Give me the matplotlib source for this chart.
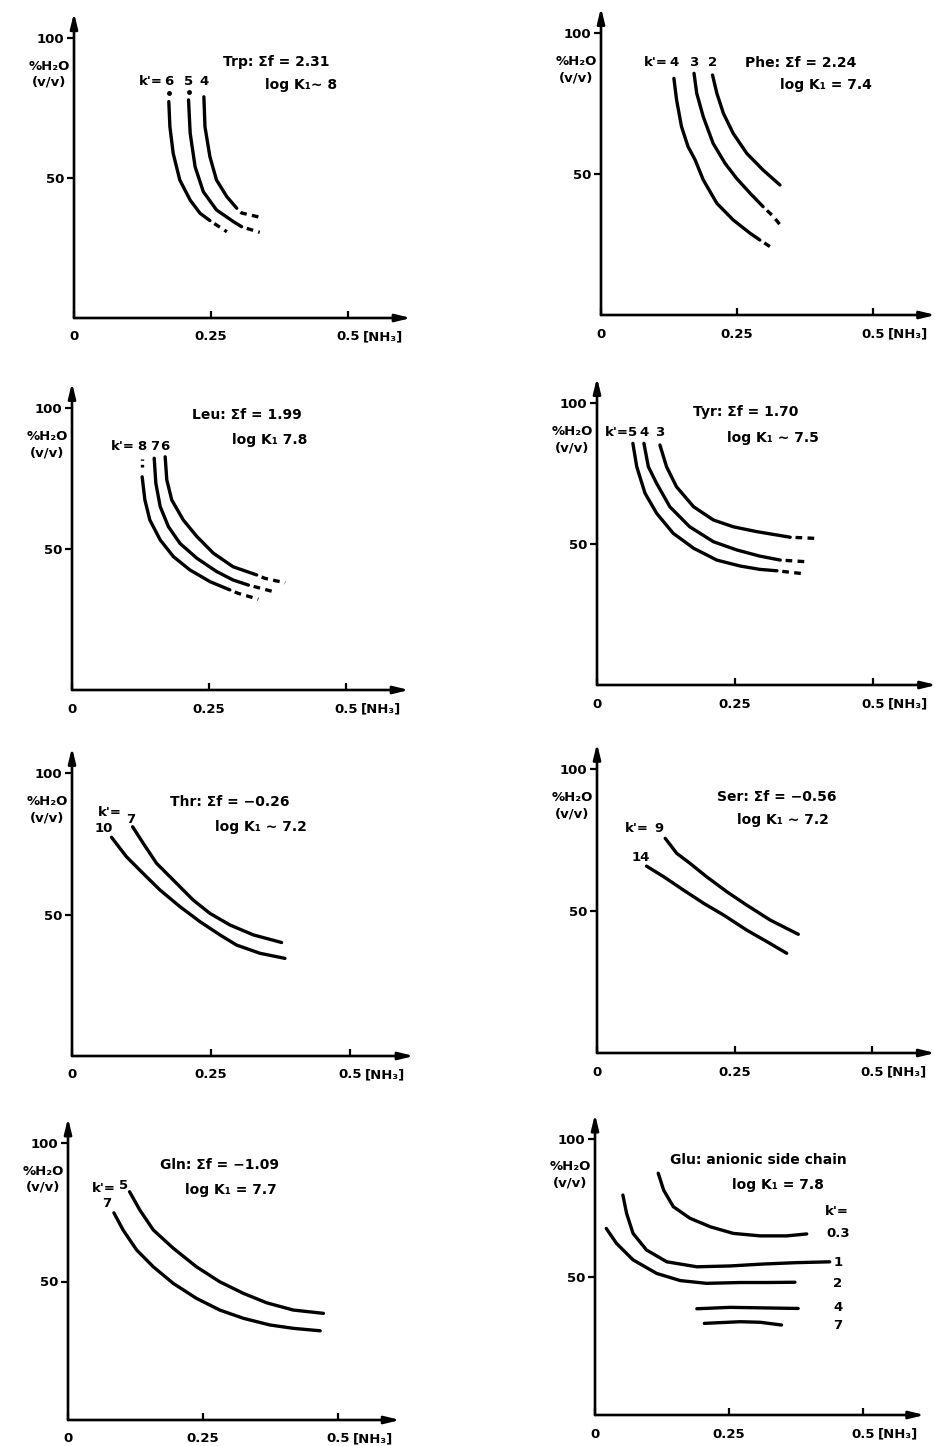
import matplotlib.pyplot as plt

plt.rcParams['font.family'] = ['DejaVu Sans']
plt.rcParams['font.weight'] = 'bold'

W, H = 935, 1446

# values: x = [NH3], y = % H2O (v/v)
trp_k = ["6", "5", "4"]
trp_x = [[0.173, 0.175, 0.181, 0.193, 0.212, 0.230, 0.248],
         [0.209, 0.212, 0.221, 0.236, 0.260, 0.291, 0.306],
         [0.237, 0.239, 0.248, 0.260, 0.279, 0.297]]
trp_y = [[77.3, 68.3, 58.8, 49.3, 42.1, 37.4, 34.8],
         [77.9, 66.0, 54.0, 45.1, 38.6, 34.4, 32.6],
         [79.0, 68.3, 57.6, 49.3, 43.3, 39.2]]
trp_tail_x = [[0.248, 0.257, 0.279], [0.306, 0.312, 0.339], [0.297, 0.306, 0.339]]
trp_tail_y = [[34.8, 33.6, 30.8], [32.6, 32.2, 30.6], [39.2, 37.5, 36.0]]

phe_k = ["4", "3", "2"]
phe_x = [[0.134, 0.139, 0.148, 0.160, 0.173, 0.188, 0.213, 0.243, 0.274, 0.292],
         [0.171, 0.176, 0.188, 0.206, 0.228, 0.249, 0.274, 0.298],
         [0.205, 0.213, 0.225, 0.243, 0.268, 0.298, 0.329]]
phe_y = [[83.9, 76.2, 66.8, 59.7, 55.0, 47.9, 39.6, 33.7, 29.0, 26.6],
         [85.7, 78.6, 70.3, 60.9, 53.8, 48.5, 43.2, 38.4],
         [85.1, 78.6, 71.5, 64.4, 57.3, 51.4, 46.1]]
phe_tail_x = [[0.292, 0.311], [0.298, 0.317, 0.332], []]
phe_tail_y = [[26.6, 24.2], [38.4, 34.9, 31.3], []]

leu_k = ["8", "7", "6"]
leu_x = [[0.128, 0.133, 0.142, 0.161, 0.185, 0.215, 0.252, 0.288],
         [0.150, 0.153, 0.161, 0.176, 0.197, 0.228, 0.264, 0.294, 0.322],
         [0.170, 0.173, 0.182, 0.203, 0.228, 0.258, 0.294, 0.337]]
leu_y = [[75.6, 67.4, 60.3, 53.2, 47.3, 42.6, 38.4, 35.5],
         [82.2, 73.3, 65.0, 57.9, 52.0, 46.7, 42.0, 39.0, 37.2],
         [82.7, 74.5, 67.4, 60.3, 54.4, 48.5, 43.7, 40.8]]
leu_tail_x = [[0.288, 0.303, 0.340], [0.322, 0.334, 0.367], [0.337, 0.352, 0.389]]
leu_tail_y = [[35.5, 34.3, 32.2], [37.2, 36.6, 34.9], [40.8, 39.6, 38.0]]

tyr_k = ["5", "4", "3"]
tyr_x = [[0.065, 0.072, 0.087, 0.108, 0.138, 0.175, 0.217, 0.259, 0.295, 0.326],
         [0.085, 0.093, 0.108, 0.132, 0.168, 0.211, 0.253, 0.295, 0.332],
         [0.114, 0.126, 0.144, 0.175, 0.211, 0.247, 0.289, 0.350]]
tyr_y = [[85.7, 77.4, 68.0, 60.9, 53.8, 48.5, 44.3, 42.2, 41.0, 40.5],
         [85.7, 77.4, 71.5, 63.2, 56.1, 50.8, 47.9, 45.7, 44.3],
         [85.1, 77.4, 70.3, 63.2, 58.5, 56.1, 54.4, 52.4]]
tyr_tail_x = [[0.326, 0.377], [0.332, 0.380], [0.350, 0.395]]
tyr_tail_y = [[40.5, 39.4], [44.3, 43.7], [52.4, 52.0]]

thr_k = ["7", "10"]
thr_x = [[0.109, 0.128, 0.152, 0.182, 0.218, 0.248, 0.284, 0.326, 0.377],
         [0.071, 0.098, 0.128, 0.158, 0.194, 0.230, 0.266, 0.296, 0.338, 0.383]]
thr_y = [[81.0, 75.2, 68.1, 62.2, 55.1, 50.4, 46.3, 42.8, 40.1],
         [77.3, 70.4, 64.5, 58.7, 52.8, 47.5, 42.8, 39.2, 36.3, 34.5]]

ser_k = ["9", "14"]
ser_x = [[0.124, 0.145, 0.169, 0.199, 0.236, 0.272, 0.315, 0.366],
         [0.090, 0.121, 0.157, 0.194, 0.230, 0.272, 0.309, 0.345]]
ser_y = [[75.6, 70.3, 66.8, 62.1, 56.8, 52.1, 46.8, 41.8],
         [65.8, 62.1, 57.4, 52.7, 48.6, 43.3, 39.2, 35.1]]

gln_k = ["5", "7"]
gln_x = [[0.114, 0.133, 0.158, 0.195, 0.238, 0.281, 0.325, 0.368, 0.417, 0.473],
         [0.085, 0.102, 0.127, 0.158, 0.195, 0.238, 0.281, 0.325, 0.374, 0.417, 0.467]]
gln_y = [[82.4, 75.8, 68.6, 62.0, 55.3, 49.9, 45.7, 42.3, 39.7, 38.5],
         [74.8, 68.6, 61.4, 55.3, 49.3, 43.9, 39.7, 36.7, 34.3, 33.1, 32.2]]

glu_k = ["0.3", "1", "2", "4", "7"]
glu_x = [[0.118, 0.128, 0.146, 0.177, 0.215, 0.258, 0.308, 0.358, 0.395],
         [0.052, 0.059, 0.071, 0.096, 0.134, 0.190, 0.252, 0.314, 0.376, 0.438],
         [0.021, 0.040, 0.071, 0.115, 0.159, 0.208, 0.271, 0.320, 0.373],
         [0.190, 0.252, 0.379],
         [0.204, 0.271, 0.308, 0.348]]
glu_y = [[87.6, 81.5, 75.5, 71.3, 68.2, 65.8, 64.9, 64.9, 65.6],
         [79.7, 73.0, 65.8, 59.8, 55.5, 53.7, 54.0, 54.7, 55.2, 55.5],
         [67.6, 62.2, 56.2, 51.3, 48.7, 47.7, 48.0, 48.0, 48.1],
         [38.5, 39.0, 38.6],
         [33.2, 33.8, 33.6, 32.6]]

titles = ["Trp: Σf = 2.31", "Phe: Σf = 2.24", "Leu: Σf = 1.99", "Tyr: Σf = 1.70",
          "Thr: Σf = −0.26", "Ser: Σf = −0.56", "Gln: Σf = −1.09",
          "Glu: anionic side chain"]
logk = ["log K₁∼ 8", "log K₁ = 7.4", "log K₁ 7.8", "log K₁ ∼ 7.5",
        "log K₁ ∼ 7.2", "log K₁ ∼ 7.2", "log K₁ = 7.7", "log K₁ = 7.8"]

FS = 9.5      # ticks, k' labels
TFS = 10      # panel annotations
LW = 2.4
fig = plt.figure(figsize=(W / 100, H / 100), dpi=100)


def make_axes(ox, oy, sx, sy):
    # ox, oy: pixel position of the origin; sx, sy: pixels per data unit
    xmax, ymax = 0.615, 109
    ax = fig.add_axes([ox / W, 1 - oy / H, xmax * sx / W, ymax * sy / H])
    ax.set_xlim(0, xmax)
    ax.set_ylim(0, ymax)
    for sp in ax.spines.values():
        sp.set_visible(False)
    ax.patch.set_alpha(0)
    arrow = dict(arrowstyle='-|>,head_length=0.9,head_width=0.22', color='black',
                 lw=1.9, shrinkA=0, shrinkB=0)
    ax.annotate('', xy=(xmax, 0), xytext=(0, 0), arrowprops=arrow, annotation_clip=False)
    ax.annotate('', xy=(0, ymax), xytext=(0, 0), arrowprops=arrow, annotation_clip=False)
    ax.set_xticks([0, 0.25, 0.5])
    ax.set_xticklabels(['0', '0.25', '0.5'])
    ax.set_yticks([50, 100])
    ax.set_yticklabels(['50', '100'])
    ax.tick_params(axis='x', direction='in', length=5, width=1.6, pad=9, labelsize=FS)
    ax.tick_params(axis='y', direction='out', length=5, width=1.6, pad=2, labelsize=FS)
    ax.annotate('[NH₃]', xy=(0.5, 0), xytext=(15, -19), textcoords='offset pixels',
                ha='left', va='center', fontsize=FS, annotation_clip=False)
    ax.text(-4 / sx, 87.0, '%H₂O\n(v/v)', ha='right', va='center', fontsize=FS,
            multialignment='center', linespacing=1.3)
    return ax


def draw_curves(ax, xs, ys, tx=None, ty=None):
    for i in range(len(xs)):
        ax.plot(xs[i], ys[i], color='black', lw=LW, solid_capstyle='round',
                solid_joinstyle='round', clip_on=False)
        if tx and tx[i]:
            ax.plot(tx[i], ty[i], color='black', lw=LW, linestyle=(2.0, (2.0, 1.6)),
                    clip_on=False)


def k_labels(ax, kx, ky, ks, xs):
    ax.text(kx, ky, "k'=", ha='right', va='center', fontsize=FS)
    for k, x in zip(ks, xs):
        ax.text(x[0], ky, k, ha='center', va='center', fontsize=FS)


# Trp
ax = make_axes(74, 318, 548, 2.80)
draw_curves(ax, trp_x, trp_y, trp_tail_x, trp_tail_y)
ax.plot([trp_x[0][0], trp_x[1][0]], [80.2, 80.6], 'o', color='black', ms=2.5)
k_labels(ax, 0.162, 84.5, trp_k, trp_x)
ax.text(0.272, 91.4, titles[0], fontsize=TFS, va='center')
ax.text(0.349, 83.2, logk[0], fontsize=TFS, va='center')

# Phe
ax = make_axes(601, 315, 544, 2.82)
draw_curves(ax, phe_x, phe_y, phe_tail_x, phe_tail_y)
k_labels(ax, 0.123, 89.4, phe_k, phe_x)
ax.text(0.265, 89.4, titles[1], fontsize=TFS, va='center')
ax.text(0.329, 81.6, logk[1], fontsize=TFS, va='center')

# Leu
ax = make_axes(72, 690, 548, 2.82)
draw_curves(ax, leu_x, leu_y, leu_tail_x, leu_tail_y)
ax.plot([leu_x[0][0], leu_x[0][0]], [79.0, 82.0], color='black', lw=LW,
        linestyle=(0, (0.8, 1.2)))
k_labels(ax, 0.115, 86.2, leu_k, leu_x)
ax.text(0.219, 97.5, titles[2], fontsize=TFS, va='center')
ax.text(0.292, 88.7, logk[2], fontsize=TFS, va='center')

# Tyr
ax = make_axes(597, 685, 552, 2.82)
draw_curves(ax, tyr_x, tyr_y, tyr_tail_x, tyr_tail_y)
k_labels(ax, 0.058, 89.5, tyr_k, tyr_x)
ax.text(0.174, 96.8, titles[3], fontsize=TFS, va='center')
ax.text(0.236, 87.5, logk[3], fontsize=TFS, va='center')

# Thr
ax = make_axes(72, 1056, 556, 2.83)
draw_curves(ax, thr_x, thr_y)
ax.text(0.047, 86.2, "k'=", ha='left', va='center', fontsize=FS)
ax.text(0.106, 83.6, thr_k[0], ha='center', va='center', fontsize=FS)
ax.text(0.058, 80.4, thr_k[1], ha='center', va='center', fontsize=FS)
ax.text(0.176, 89.8, titles[4], fontsize=TFS, va='center')
ax.text(0.257, 80.9, logk[4], fontsize=TFS, va='center')

# Ser
ax = make_axes(597, 1053, 550, 2.84)
draw_curves(ax, ser_x, ser_y)
ax.text(0.051, 78.9, "k'=", ha='left', va='center', fontsize=FS)
ax.text(0.113, 78.9, ser_k[0], ha='center', va='center', fontsize=FS)
ax.text(0.080, 68.7, ser_k[1], ha='center', va='center', fontsize=FS)
ax.text(0.218, 90.1, titles[5], fontsize=TFS, va='center')
ax.text(0.255, 82.0, logk[5], fontsize=TFS, va='center')

# Gln
ax = make_axes(68, 1420, 540, 2.77)
draw_curves(ax, gln_x, gln_y)
ax.text(0.044, 83.4, "k'=", ha='left', va='center', fontsize=FS)
ax.text(0.102, 84.8, gln_k[0], ha='center', va='center', fontsize=FS)
ax.text(0.072, 78.3, gln_k[1], ha='center', va='center', fontsize=FS)
ax.text(0.170, 92.1, titles[6], fontsize=TFS, va='center')
ax.text(0.217, 83.0, logk[6], fontsize=TFS, va='center')

# Glu
ax = make_axes(595, 1415, 536, 2.76)
draw_curves(ax, glu_x, glu_y)
ax.text(0.429, 73.6, "k'=", ha='left', va='center', fontsize=FS)
for k, yk in zip(glu_k, [65.6, 55.4, 47.8, 38.8, 32.6]):
    ax.text(0.453, yk, k, ha='center', va='center', fontsize=FS)
ax.text(0.140, 92.4, titles[7], fontsize=TFS, va='center')
ax.text(0.256, 83.3, logk[7], fontsize=TFS, va='center')

fig.savefig('out.png', dpi=100)
